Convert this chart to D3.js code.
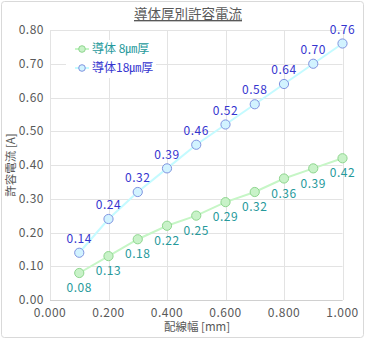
<!DOCTYPE html>
<html><head><meta charset="utf-8">
<script src="https://cdn.jsdelivr.net/npm/d3@7"></script>
<style>body{margin:0;background:#fff}svg{display:block}text{font-family:"Noto Sans CJK JP","Noto Sans",sans-serif}</style>
</head><body>
<script>
const widths = [0.1,0.2,0.3,0.4,0.5,0.6,0.7,0.8,0.9,1.0];
const current8 = [0.08,0.13,0.18,0.22,0.25,0.29,0.32,0.36,0.39,0.42];
const current18 = [0.14,0.24,0.32,0.39,0.46,0.52,0.58,0.64,0.70,0.76];
const seriesNames = ["導体 8㎛厚","導体18㎛厚"];
const xTicks = [0,0.2,0.4,0.6,0.8,1.0];
const yTicks = [0,0.1,0.2,0.3,0.4,0.5,0.6,0.7,0.8];
const title = "導体厚別許容電流";
const xTitle = "配線幅 [mm]";
const yTitle = "許容電流 [A]";

const W=366,H=340;
const svg=d3.select("body").append("svg").attr("width",W).attr("height",H);
svg.append("rect").attr("x",1.5).attr("y",1.5).attr("width",W-4).attr("height",H-4).attr("rx",3)
  .attr("fill","#fff").attr("stroke","#d9d9d9");
const x=d3.scaleLinear().domain([0,1]).range([50,342.5]);
const y=d3.scaleLinear().domain([0,0.8]).range([300,30]);

const g=svg.append("g");
g.selectAll(".gy").data(yTicks).join("line").attr("x1",x(0)).attr("x2",x(1))
  .attr("y1",d=>Math.round(y(d))+0.5).attr("y2",d=>Math.round(y(d))+0.5).attr("stroke","#e3e3e3");
g.selectAll(".gx").data(xTicks).join("line").attr("y1",y(0)).attr("y2",y(0.8))
  .attr("x1",d=>Math.round(x(d))+0.5).attr("x2",d=>Math.round(x(d))+0.5).attr("stroke","#e3e3e3");
g.append("line").attr("x1",x(0)).attr("x2",x(1)).attr("y1",y(0)+0.5).attr("y2",y(0)+0.5).attr("stroke","#d0d0d0");

const fmtY=d3.format(".2f"), fmtX=d3.format(".3f");
g.selectAll(".ty").data(yTicks).join("text").attr("x",44).attr("y",d=>y(d)).attr("dy","0.35em")
  .attr("text-anchor","end").attr("font-size",12).attr("fill","#595959").attr("letter-spacing","0.5")
  .text(d=>fmtY(d));
g.selectAll(".tx").data(xTicks).join("text").attr("x",d=>x(d)).attr("y",313).attr("dy","0.35em")
  .attr("text-anchor","middle").attr("font-size",12).attr("fill","#595959").attr("letter-spacing","0.5")
  .text(d=>fmtX(d));

svg.append("text").attr("x",188).attr("y",19).attr("text-anchor","middle").attr("font-size",13.5)
  .attr("fill","#595959").attr("text-decoration","underline").text(title);
svg.append("text").attr("x",197).attr("y",327).attr("dy","0.35em").attr("text-anchor","middle")
  .attr("font-size",11.5).attr("fill","#595959").text(xTitle);
svg.append("text").attr("transform","translate(11,165) rotate(-90)").attr("dy","0.35em")
  .attr("text-anchor","middle").attr("font-size",11.5).attr("fill","#595959").text(yTitle);

const series=[
  {name:seriesNames[0],vals:current8,line:"#c6f6c6",fill:"#c8f2c8",stroke:"#8fd68f",lab:"#26999b",dy:15},
  {name:seriesNames[1],vals:current18,line:"#c4fbff",fill:"#d2f3ff",stroke:"#8094e0",lab:"#3535cf",dy:-14}
];
const line=d3.line().x((d,i)=>x(widths[i])).y(d=>y(d));
series.forEach(s=>{
  svg.append("path").attr("d",line(s.vals)).attr("fill","none").attr("stroke",s.line).attr("stroke-width",2);
});
series.forEach(s=>{
  svg.selectAll(null).data(s.vals).join("circle").attr("cx",(d,i)=>x(widths[i])).attr("cy",d=>y(d)).attr("r",4.6)
    .attr("fill",s.fill).attr("stroke",s.stroke).attr("stroke-width",1);
  svg.selectAll(null).data(s.vals).join("text").attr("x",(d,i)=>x(widths[i])).attr("y",d=>y(d)+s.dy).attr("dy","0.35em")
    .attr("text-anchor","middle").attr("font-size",12).attr("fill",s.lab).attr("letter-spacing","0.5").text(d=>fmtY(d));
});

// legend
const lg=svg.append("g");
lg.append("rect").attr("x",66).attr("y",40).attr("width",90).attr("height",38).attr("fill","#fff");
series.forEach((s,i)=>{
  const yy=49+i*19;
  lg.append("line").attr("x1",75).attr("x2",89).attr("y1",yy).attr("y2",yy).attr("stroke",s.line).attr("stroke-width",2);
  lg.append("circle").attr("cx",82).attr("cy",yy).attr("r",3.3).attr("fill",s.fill).attr("stroke",s.stroke);
  lg.append("text").attr("x",92).attr("y",yy).attr("dy","0.35em").attr("font-size",12).attr("fill",s.lab).text(s.name);
});
</script>
</body></html>
